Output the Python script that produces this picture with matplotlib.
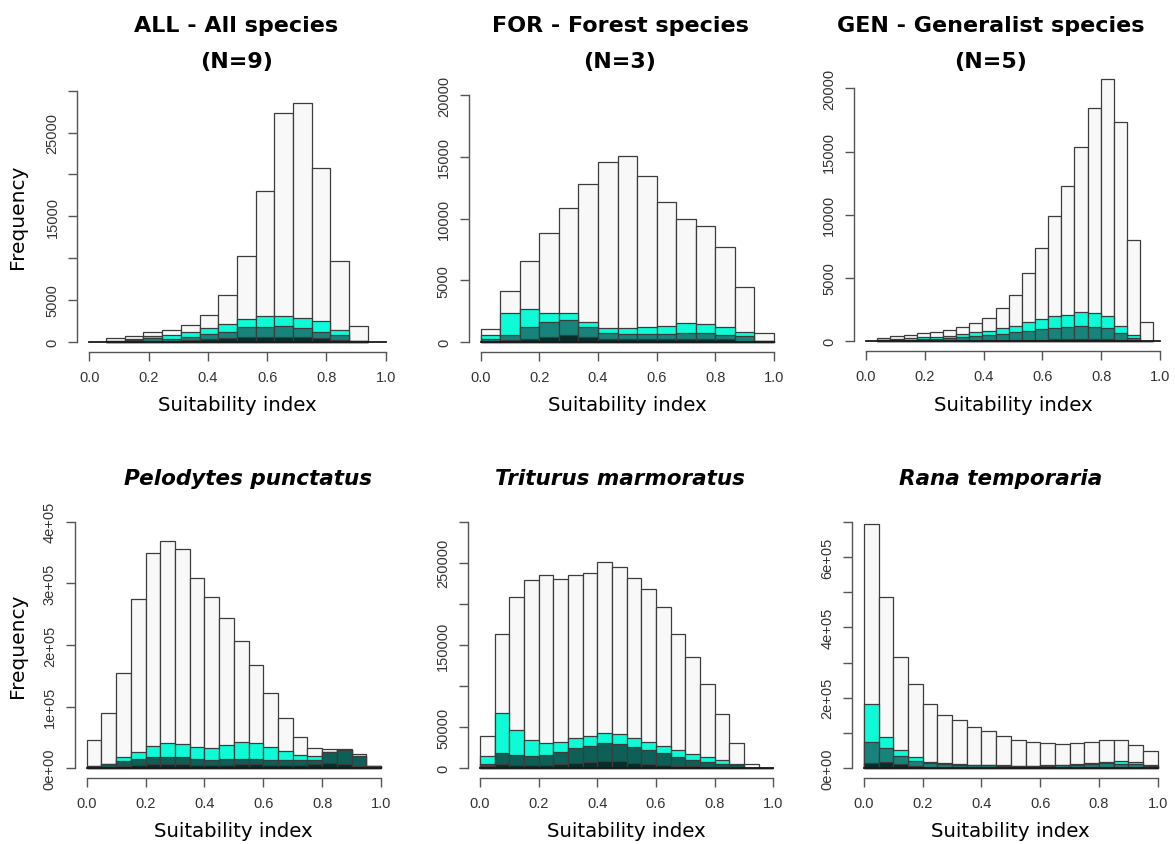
import numpy as np
import matplotlib.pyplot as plt

# histogram counts (white = all cells, then nested subsets)
titles = ["ALL - All species\n(N=9)", "FOR - Forest species\n(N=3)",
          "GEN - Generalist species\n(N=5)", "Pelodytes punctatus",
          "Triturus marmoratus", "Rana temporaria"]

all_edges = np.linspace(0.0563, 0.9397, 15)
all_white = [440, 720, 1120, 1440, 2030, 3190, 5580, 10250, 17980, 27310, 28510, 20730, 9690, 1910]
all_cyan = [80, 280, 640, 800, 1160, 1640, 2110, 2710, 3030, 3110, 2830, 2430, 1400, 120]
all_teal = [40, 160, 400, 320, 600, 920, 1200, 1710, 1790, 1910, 1640, 1120, 800, 120]
all_dark = [20, 80, 80, 80, 160, 320, 400, 520, 600, 600, 520, 400, 240, 80]

for_edges = np.linspace(0, 1, 16)
for_white = [1080, 4120, 6550, 8840, 10890, 12770, 14580, 15040, 13420, 11350, 10000, 9430, 7680, 4450, 730]
for_cyan = [620, 2370, 2720, 2370, 2370, 1640, 1190, 1160, 1240, 1290, 1560, 1510, 1240, 860, 135]
for_teal = [300, 590, 1270, 1620, 1830, 1210, 760, 670, 670, 670, 730, 730, 620, 490, 135]
for_dark = [135, 220, 240, 460, 620, 430, 270, 240, 240, 270, 270, 270, 240, 135, 80]

gen_edges = np.linspace(0.0385, 0.9772, 22)
gen_white = [260, 400, 500, 660, 710, 920, 1160, 1420, 1850, 2610, 3690, 5430, 7350, 9930,
             12250, 15390, 18450, 20710, 17310, 7980, 1500]
gen_cyan = [130, 180, 260, 340, 370, 450, 580, 710, 840, 1030, 1240, 1500, 1770, 2000,
            2080, 2290, 2240, 2030, 1210, 470, 50]
gen_teal = [105, 105, 130, 180, 180, 260, 320, 400, 470, 550, 710, 840, 950, 1080,
            1110, 1190, 1160, 1030, 660, 290, 26]
gen_dark = [100, 26, 26, 26, 26, 53, 53, 53, 79, 79, 132, 132, 132, 184, 184, 184, 184, 184, 132, 53, 26]

pel_edges = np.linspace(0, 1, 21)
pel_white = [46500, 89700, 154600, 275100, 348600, 369200, 355100, 309200, 278400, 243200,
             207000, 168100, 122200, 81100, 50800, 33500, 31900, 31300, 23200, 4300]
pel_cyan = [4300, 7600, 17800, 25900, 36200, 41100, 39500, 34100, 33500, 37800,
            42200, 41100, 35100, 28100, 22200, 19500, 25900, 29700, 20500, 4300]
pel_teal = [4300, 7600, 12400, 15100, 17800, 18900, 17800, 15100, 14100, 15100,
            15700, 15100, 14100, 14100, 14100, 14100, 25900, 29700, 20500, 4300]
pel_dark = [1600, 2700, 4300, 5900, 7000, 7600, 7000, 5900, 5400, 5900,
            6500, 6500, 5400, 5400, 5400, 7000, 8600, 7000, 4300, 1600]

tri_edges = np.linspace(0, 1, 21)
tri_white = [39700, 163400, 208000, 228700, 234800, 230300, 235600, 237600, 250600, 245300,
             231900, 218600, 195900, 163800, 135400, 103000, 66500, 30400, 5300, 800]
tri_cyan = [15000, 67300, 46200, 34100, 30400, 32400, 36500, 38900, 43000, 41800,
            36500, 31600, 27200, 21900, 17800, 14200, 10500, 5700, 800, 0]
tri_teal = [5300, 19100, 16200, 15000, 16600, 19500, 24300, 27600, 30800, 29600,
            26000, 21900, 18200, 13800, 10500, 8100, 5700, 3700, 400, 0]
tri_dark = [2400, 4900, 4500, 3700, 4100, 4900, 6100, 7300, 9300, 8500,
            6500, 5300, 4500, 3200, 2400, 1600, 1200, 800, 400, 0]

ran_edges = np.linspace(0, 1, 21)
ran_white = [693100, 487000, 315800, 238300, 181600, 151300, 137100, 116300, 105000, 92700,
             80400, 73800, 70900, 69000, 70900, 74700, 80400, 81300, 67100, 49200]
ran_cyan = [181600, 88900, 51100, 31200, 18900, 14200, 12300, 9500, 9500, 8500,
            7600, 7600, 8500, 9500, 11300, 14200, 18000, 20800, 18000, 9500]
ran_teal = [75600, 58600, 35900, 21700, 14200, 11300, 10400, 8500, 8500, 7600,
            6600, 6600, 7600, 8500, 9500, 12300, 14200, 11300, 12300, 7600]
ran_dark = [15100, 18900, 12300, 7600, 4700, 3800, 2800, 2800, 2800, 2800,
            2800, 2800, 2800, 2800, 2800, 2800, 2800, 2800, 2800, 2800]

x_ticks = [0.0, 0.2, 0.4, 0.6, 0.8, 1.0]
y_ticks = [np.arange(0, 30001, 5000), np.arange(0, 20001, 5000), np.arange(0, 20001, 5000),
           np.arange(0, 400001, 100000), np.arange(0, 300001, 50000), np.arange(0, 700001, 100000)]
y_labels = [["0", "5000", "", "15000", "", "25000", ""],
            ["0", "5000", "10000", "15000", "20000"],
            ["0", "5000", "10000", "15000", "20000"],
            ["0e+00", "1e+05", "2e+05", "3e+05", "4e+05"],
            ["0", "50000", "", "150000", "", "250000", ""],
            ["0e+00", "", "2e+05", "", "4e+05", "", "6e+05", ""]]

data = [(all_edges, all_white, all_cyan, all_teal, all_dark),
        (for_edges, for_white, for_cyan, for_teal, for_dark),
        (gen_edges, gen_white, gen_cyan, gen_teal, gen_dark),
        (pel_edges, pel_white, pel_cyan, pel_teal, pel_dark),
        (tri_edges, tri_white, tri_cyan, tri_teal, tri_dark),
        (ran_edges, ran_white, ran_cyan, ran_teal, ran_dark)]

# pixel layout: x of 0, x of 1, y of 0, y of top tick, title centre x
layout = [(89.3, 385.7, 342.7, 91.7, 236.5), (480.7, 774.0, 343.3, 96.0, 620),
          (866.0, 1160.0, 342.3, 89.3, 991),
          (86.7, 381.0, 769.3, 522.7, 248), (480.0, 773.3, 769.3, 522.7, 620),
          (864.0, 1157.7, 769.3, 522.7, 1001)]
teal_cols = ["#17837a", "#17837a", "#17837a", "#0e5f57", "#0e5f57", "#17837a"]

W, H = 1175, 845
fig = plt.figure(figsize=(11.75, 8.45), dpi=100)
axcol = "#555555"
edge = "#3c3c3c"

for i in range(6):
    edges, white, cyan, teal, dark = data[i]
    px0, px1, py0, pyT, tx = layout[i]
    T = y_ticks[i][-1]
    sx = px1 - px0
    sy = (py0 - pyT) / T
    left, right = px0 - 0.04 * sx, px1 + 0.04 * sx
    bot, top = py0 + 0.04 * T * sy, pyT - 0.04 * T * sy
    ax = fig.add_axes([left / W, 1 - bot / H, (right - left) / W, (bot - top) / H])
    ax.set_xlim(-0.04, 1.04)
    ax.set_ylim(-0.04 * T, 1.04 * T)

    w = np.diff(edges)
    for vals, col in [(white, "#f8f8f8"), (cyan, "#0dfbd6"), (teal, teal_cols[i]), (dark, "#082d29")]:
        ax.bar(edges[:-1], vals, width=w, align="edge", color=col, edgecolor=edge, linewidth=0.9)
    ax.plot([0, 1], [0, 0], color="#1a1a1a", lw=1.3)

    for s in ["top", "right"]:
        ax.spines[s].set_visible(False)
    for s in ["left", "bottom"]:
        ax.spines[s].set_color(axcol)
        ax.spines[s].set_linewidth(1.0)
    ax.spines["bottom"].set_bounds(0, 1)
    ax.spines["left"].set_bounds(0, T)
    ax.set_xticks(x_ticks)
    ax.set_xticklabels(["%.1f" % t for t in x_ticks], family="Liberation Sans", fontsize=10.5, color="#333333")
    ax.set_yticks(y_ticks[i])
    ax.set_yticklabels(y_labels[i], rotation=90, va="center", family="Liberation Sans",
                       fontsize=10.5, color="#333333")
    ax.tick_params(length=6.5, width=1.0, color=axcol, pad=6.5)
    ax.patch.set_visible(False)

    cx = (left + right) / 2 / W
    if i < 3:
        name, n = titles[i].split("\n")
        fig.text(tx / W, 1 - 26 / H, name, ha="center", va="center", fontsize=16, fontweight="bold")
        fig.text(tx / W, 1 - 62 / H, n, ha="center", va="center", fontsize=16, fontweight="bold")
        fig.text(cx, 1 - 406 / H, "Suitability index", ha="center", va="center", fontsize=14.2)
    else:
        fig.text(tx / W, 1 - 479 / H, titles[i], ha="center", va="center", fontsize=15.5,
                 fontweight="bold", style="italic")
        fig.text(cx, 1 - 832 / H, "Suitability index", ha="center", va="center", fontsize=14.2)
    if i % 3 == 0:
        fig.text(18 / W, 1 - (py0 + pyT) / 2 / H, "Frequency", rotation=90,
                 ha="center", va="center", fontsize=14.5)

fig.savefig("out.png", dpi=100)
